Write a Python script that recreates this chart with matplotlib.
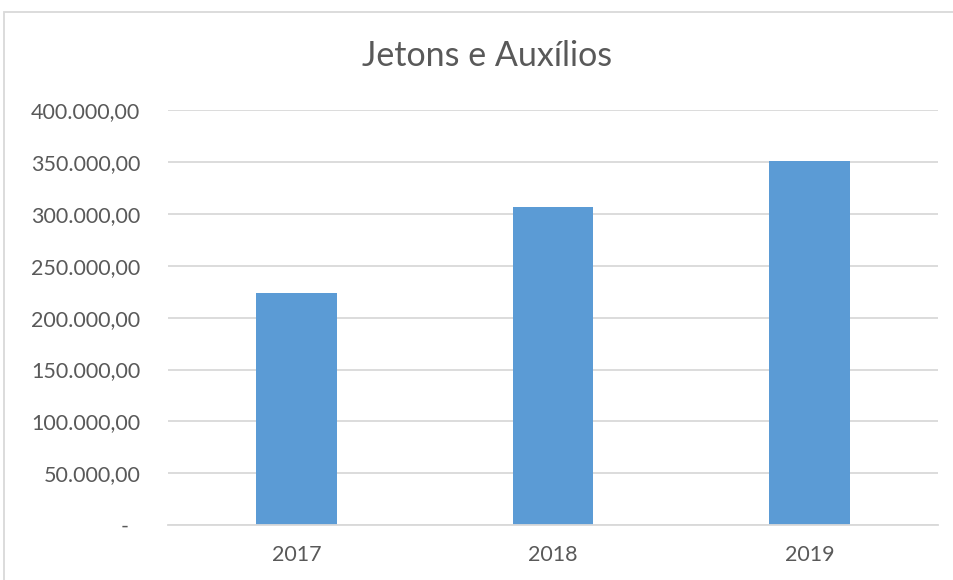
import matplotlib
matplotlib.use("Agg")
import matplotlib.pyplot as plt
from matplotlib.patches import Rectangle
from matplotlib.ticker import FixedLocator

years = ["2017", "2018", "2019"]
values = [223500, 306600, 351200]
yticks = [0, 50000, 100000, 150000, 200000, 250000, 300000, 350000, 400000]
ytick_labels = ["-  ", "50.000,00", "100.000,00", "150.000,00", "200.000,00",
                "250.000,00", "300.000,00", "350.000,00", "400.000,00"]
title = "Jetons e Auxílios"

plt.rcParams['font.family'] = ['Lato', 'DejaVu Sans']
txt = "#595959"
grid = "#d9d9d9"

fig = plt.figure(figsize=(9.54, 5.8), dpi=100)
ax = fig.add_axes([168/954, 1-525.3/580, (938-168)/954, (525.3-110)/580])

x = range(len(years))
ax.bar(x, values, width=0.3135, color="#5b9bd5", zorder=3)
ax.set_xlim(-0.5, 2.5)
ax.set_ylim(0, 400000)
ax.set_xticks(list(x))
ax.set_xticklabels(years)
ax.yaxis.set_major_locator(FixedLocator(yticks))
ax.set_yticklabels(ytick_labels)
ax.grid(axis="y", color=grid, linewidth=1.3, zorder=0)
for s in ["top", "right", "left"]:
    ax.spines[s].set_visible(False)
ax.spines["bottom"].set_color(grid)
ax.spines["bottom"].set_linewidth(1.3)
ax.spines["bottom"].set_zorder(4)
ax.tick_params(axis="both", length=0, colors=txt, labelsize=15.5)
ax.tick_params(axis="y", pad=20)
ax.tick_params(axis="x", pad=14)

fig.text(487/954, 1-56/580, title, ha="center", va="center", fontsize=24.5, color=txt)

fig.patches.append(Rectangle((4.5/954, -0.05), 1.1, 1.05 - 11.5/580, transform=fig.transFigure,
                             fill=False, edgecolor=grid, linewidth=1.3, figure=fig))

fig.savefig("out.png", dpi=100)
